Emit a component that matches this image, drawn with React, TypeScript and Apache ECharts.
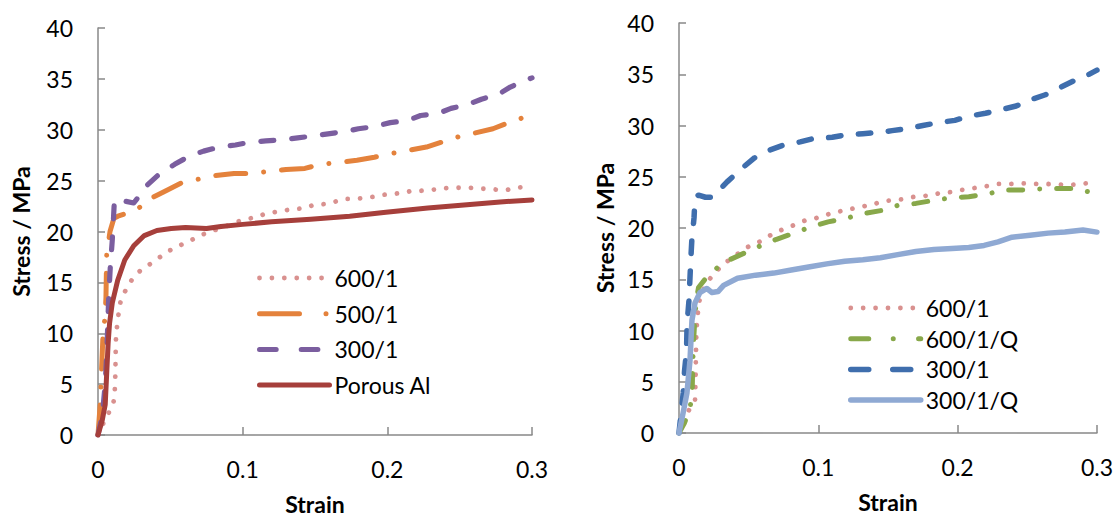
import React, { useEffect, useRef } from "react";
import * as echarts from "echarts";

// ---------- data (strain, stress/MPa) ----------
const xTicks = [0, 0.1, 0.2, 0.3];
const yTicks = [0, 5, 10, 15, 20, 25, 30, 35, 40];

const leftNames = ["600/1", "500/1", "300/1", "Porous Al"];
const rightNames = ["600/1", "600/1/Q", "300/1", "300/1/Q"];

const left600: [number, number][] = [
  [0, 0], [0.0035, 1.1], [0.0067, 2.0], [0.0105, 3.0], [0.0115, 4], [0.012, 6], [0.0122, 8], [0.0125, 10],
  [0.0135, 11], [0.0145, 12.3], [0.016, 13.4], [0.0198, 14.4], [0.024, 15.4], [0.0296, 16.2], [0.036, 16.8],
  [0.042, 17.4], [0.048, 18.0], [0.054, 18.5], [0.061, 18.9], [0.068, 19.4], [0.074, 19.8], [0.08, 20.1],
  [0.088, 20.5], [0.095, 20.9], [0.102, 21.2], [0.109, 21.4], [0.115, 21.7], [0.122, 21.9], [0.13, 22.1],
  [0.136, 22.2], [0.143, 22.3], [0.149, 22.6], [0.157, 22.7], [0.163, 22.9], [0.17, 23.2], [0.177, 23.2],
  [0.184, 23.3], [0.19, 23.4], [0.197, 23.6], [0.204, 23.7], [0.211, 23.8], [0.217, 24.0], [0.223, 24.0],
  [0.231, 24.1], [0.237, 24.2], [0.243, 24.3], [0.251, 24.3], [0.257, 24.3], [0.263, 24.2], [0.269, 24.2],
  [0.277, 24.1], [0.283, 24.1], [0.289, 24.3], [0.3, 24.45],
];
const left500: [number, number][] = [
  [0, 0], [0.0015, 3], [0.0025, 6.5], [0.0035, 10], [0.0048, 11.5], [0.0055, 13.5], [0.006, 17.7],
  [0.0083, 20], [0.011, 21.3], [0.0138, 21.5], [0.02, 21.8], [0.025, 22.0], [0.03, 22.5], [0.033, 23.0],
  [0.047, 24.0], [0.058, 24.8], [0.081, 25.5], [0.094, 25.7], [0.106, 25.7], [0.13, 26.1], [0.143, 26.2],
  [0.154, 26.6], [0.179, 27.0], [0.191, 27.3], [0.204, 27.7], [0.227, 28.3], [0.238, 28.8], [0.249, 29.3],
  [0.273, 30.1], [0.284, 30.7], [0.298, 31.4], [0.3, 31.7],
];
const left300: [number, number][] = [
  [0, 0], [0.003, 2], [0.005, 5], [0.006, 8], [0.0068, 11], [0.0074, 13.5], [0.0085, 16.5], [0.0098, 19],
  [0.0106, 21], [0.0112, 22.7], [0.0136, 23.3], [0.018, 23.0], [0.0247, 22.8], [0.028, 23.4], [0.032, 24.3],
  [0.042, 25.6], [0.053, 26.6], [0.063, 27.4], [0.073, 27.9], [0.084, 28.3], [0.095, 28.5], [0.106, 28.8],
  [0.116, 28.9], [0.127, 29.0], [0.138, 29.2], [0.149, 29.4], [0.159, 29.6], [0.17, 29.8], [0.18, 30.1],
  [0.191, 30.3], [0.202, 30.7], [0.214, 30.9], [0.223, 31.4], [0.235, 31.6], [0.244, 32.1], [0.256, 32.5],
  [0.265, 33.0], [0.277, 33.5], [0.285, 34.2], [0.296, 34.9], [0.3, 35.1],
];
const leftPorous: [number, number][] = [
  [0, 0], [0.003, 1.5], [0.005, 3], [0.006, 6], [0.007, 9], [0.008, 11], [0.0099, 13], [0.0136, 15.2],
  [0.0185, 17.2], [0.0247, 18.6], [0.032, 19.6], [0.0407, 20.1], [0.0506, 20.3], [0.0605, 20.4], [0.075, 20.3],
  [0.085, 20.5], [0.1, 20.7], [0.12, 20.95], [0.147, 21.2], [0.174, 21.5], [0.199, 21.9], [0.228, 22.3],
  [0.253, 22.6], [0.278, 22.9], [0.3, 23.1],
];

const right600: [number, number][] = [
  [0, 0], [0.007, 2.2], [0.0115, 3.2], [0.012, 6], [0.0122, 8], [0.0125, 10], [0.0133, 11.3], [0.014, 12.5],
  [0.0155, 13.4], [0.0197, 14.6], [0.0248, 15.5], [0.0307, 16.3], [0.037, 17.0], [0.0435, 17.6], [0.05, 18.2],
  [0.057, 18.6], [0.063, 19.1], [0.07, 19.6], [0.077, 20.0], [0.083, 20.3], [0.09, 20.7], [0.097, 20.9],
  [0.104, 21.2], [0.111, 21.5], [0.118, 21.7], [0.125, 21.9], [0.132, 22.1], [0.139, 22.3], [0.146, 22.6],
  [0.153, 22.7], [0.16, 22.8], [0.166, 23.0], [0.174, 23.1], [0.181, 23.2], [0.187, 23.4], [0.195, 23.5],
  [0.202, 23.7], [0.208, 23.8], [0.216, 24.0], [0.222, 24.1], [0.229, 24.3], [0.237, 24.3], [0.243, 24.35],
  [0.25, 24.35], [0.257, 24.3], [0.264, 24.3], [0.271, 24.25], [0.277, 24.2], [0.285, 24.25], [0.292, 24.35],
  [0.3, 24.4],
];
const right600Q: [number, number][] = [
  [0, 0], [0.004, 1], [0.008, 2.5], [0.0095, 4], [0.0098, 6.5], [0.0105, 9], [0.0115, 11.5], [0.0125, 13],
  [0.014, 14.2], [0.0217, 15.5], [0.033, 16.7], [0.046, 17.5], [0.0575, 18.2], [0.07, 18.9], [0.0826, 19.5],
  [0.0946, 20.1], [0.107, 20.6], [0.119, 20.9], [0.132, 21.4], [0.145, 21.7], [0.157, 22.2], [0.17, 22.4],
  [0.183, 22.7], [0.196, 22.95], [0.208, 23.05], [0.221, 23.3], [0.233, 23.7], [0.2455, 23.7], [0.258, 23.8],
  [0.271, 23.85], [0.283, 23.85], [0.295, 23.5], [0.3, 23.5],
];
const right300: [number, number][] = [
  [0, 0], [0.003, 3.9], [0.004, 6.1], [0.0054, 8], [0.0058, 10.7], [0.0072, 13], [0.0078, 14.9], [0.0085, 17],
  [0.0092, 18.8], [0.0108, 21], [0.0115, 23], [0.014, 23.2], [0.019, 23.0], [0.024, 23.0], [0.0345, 24.5],
  [0.045, 25.8], [0.0537, 26.8], [0.065, 27.6], [0.0754, 28.1], [0.087, 28.4], [0.097, 28.75], [0.11, 28.85],
  [0.12, 29.1], [0.132, 29.2], [0.142, 29.3], [0.153, 29.5], [0.164, 29.7], [0.175, 30.0], [0.187, 30.3],
  [0.198, 30.5], [0.208, 30.9], [0.22, 31.2], [0.23, 31.5], [0.242, 31.9], [0.252, 32.5], [0.263, 33.0],
  [0.272, 33.6], [0.284, 34.4], [0.293, 34.9], [0.3, 35.4],
];
const right300Q: [number, number][] = [
  [0, 0], [0.003, 2], [0.0057, 3.9], [0.0079, 7.1], [0.0093, 11], [0.0115, 12.7], [0.015, 13.7], [0.02, 14.1],
  [0.0237, 13.7], [0.028, 13.8], [0.032, 14.4], [0.042, 15.1], [0.055, 15.4], [0.068, 15.6], [0.0806, 15.9],
  [0.093, 16.2], [0.106, 16.5], [0.119, 16.75], [0.132, 16.9], [0.1445, 17.1], [0.157, 17.4], [0.17, 17.7],
  [0.183, 17.9], [0.196, 18.0], [0.208, 18.1], [0.219, 18.3], [0.229, 18.65], [0.239, 19.1], [0.252, 19.3],
  [0.265, 19.5], [0.277, 19.6], [0.29, 19.8], [0.3, 19.6],
];

// ---------- styles ----------
const FONT = "Lato, 'Open Sans', sans-serif";
const AXIS_COLOR = "#888888";
const C_PINK = "#D9918F";
const C_ORANGE = "#E4823C";
const C_PURPLE = "#7B5E9F";
const C_RED = "#A63F3B";
const C_GREEN = "#88A84A";
const C_BLUE = "#3F6EAD";
const C_LBLUE = "#8FA9D3";

// plot dash patterns
const DOT = [0.01, 12.4];
const DASH_DOT_LONG = [30, 18, 0.01, 18];
const DASH_DOT_SHORT = [14, 17, 0.01, 17];
const DASH_L = [13, 18];
const DASH_R = [12.5, 17.5];
// legend icon dash patterns
const LG_DASH_DOT_LONG = [40, 26.5, 0.01, 30];
const LG_DASH_L = [16.7, 25];
const LG_DASH_DOT_SHORT = [18, 24.5, 0.01, 25.3];
const LG_DASH_R = [18, 24];

function lineSeries(name: string, data: [number, number][], color: string, width: number, dash: any) {
  return {
    type: "line",
    name,
    data,
    symbol: "none",
    showSymbol: false,
    smooth: false,
    color,
    lineStyle: { color, width, type: dash, cap: "round", join: "round" },
  };
}

function xAxisCfg() {
  return {
    type: "value",
    min: xTicks[0],
    max: xTicks[xTicks.length - 1],
    interval: xTicks[1] - xTicks[0],
    name: "Strain",
    nameLocation: "middle",
    nameGap: 57,
    nameTextStyle: { fontFamily: FONT, fontSize: 23, fontWeight: "bold", color: "#000" },
    axisLine: { show: true, onZero: false, lineStyle: { color: AXIS_COLOR, width: 1.5 } },
    axisTick: { show: true, inside: true, length: 8, lineStyle: { color: AXIS_COLOR, width: 1.5 } },
    axisLabel: {
      fontFamily: FONT, fontSize: 23, color: "#000", margin: 22,
      showMinLabel: true, showMaxLabel: true,
      formatter: (v: number) => String(Math.round(v * 10) / 10),
    },
    splitLine: { show: false },
  };
}

function yAxisCfg(gap: number) {
  return {
    type: "value",
    min: yTicks[0],
    max: yTicks[yTicks.length - 1],
    interval: yTicks[1] - yTicks[0],
    name: "Stress / MPa",
    nameLocation: "middle",
    nameRotate: 90,
    nameGap: gap,
    nameTextStyle: { fontFamily: FONT, fontSize: 23, fontWeight: "bold", color: "#000" },
    axisLine: { show: true, onZero: false, lineStyle: { color: AXIS_COLOR, width: 1.5 } },
    axisTick: { show: true, inside: true, length: 7, lineStyle: { color: AXIS_COLOR, width: 1.5 } },
    axisLabel: { fontFamily: FONT, fontSize: 23, color: "#000", margin: 25 },
    splitLine: { show: false },
  };
}

function legendCfg(items: any[], left: number, top: number, gap: number) {
  return {
    data: items,
    orient: "vertical",
    left,
    top,
    padding: 0,
    itemWidth: 70,
    itemHeight: 14,
    itemGap: gap,
    selectedMode: false,
    itemStyle: { opacity: 0 },
    lineStyle: { width: 5, cap: "round" },
    textStyle: { fontFamily: FONT, fontSize: 23, color: "#000", lineHeight: 30 },
  };
}

function buildLeft() {
  return {
    animation: false,
    backgroundColor: "#ffffff",
    grid: { left: 98, top: 28, width: 434, height: 411 },
    xAxis: xAxisCfg(),
    yAxis: yAxisCfg(66),
    legend: legendCfg(
      [
        { name: leftNames[0], lineStyle: { type: DOT, width: 4.8 } },
        { name: leftNames[1], lineStyle: { type: LG_DASH_DOT_LONG } },
        { name: leftNames[2], lineStyle: { type: LG_DASH_L } },
        { name: leftNames[3], lineStyle: { type: "solid" } },
      ],
      257, 263, 5.7
    ),
    series: [
      lineSeries(leftNames[0], left600, C_PINK, 4.8, DOT),
      lineSeries(leftNames[1], left500, C_ORANGE, 5, DASH_DOT_LONG),
      lineSeries(leftNames[2], left300, C_PURPLE, 5.2, DASH_L),
      lineSeries(leftNames[3], leftPorous, C_RED, 5, "solid"),
    ],
  };
}

function buildRight() {
  return {
    animation: false,
    backgroundColor: "#ffffff",
    grid: { left: 121, top: 23, width: 418, height: 410 },
    xAxis: xAxisCfg(),
    yAxis: yAxisCfg(63),
    legend: legendCfg(
      [
        { name: rightNames[0], lineStyle: { type: DOT, width: 4.8 } },
        { name: rightNames[1], lineStyle: { type: LG_DASH_DOT_SHORT } },
        { name: rightNames[2], lineStyle: { type: LG_DASH_R, width: 5.5 } },
        { name: rightNames[3], lineStyle: { type: "solid", width: 5.5 } },
      ],
      290, 293, 0.7
    ),
    series: [
      lineSeries(rightNames[0], right600, C_PINK, 4.8, DOT),
      lineSeries(rightNames[1], right600Q, C_GREEN, 5, DASH_DOT_SHORT),
      lineSeries(rightNames[2], right300, C_BLUE, 5.5, DASH_R),
      lineSeries(rightNames[3], right300Q, C_LBLUE, 5.5, "solid"),
    ],
  };
}

export default function App() {
  const leftRef = useRef<HTMLDivElement>(null);
  const rightRef = useRef<HTMLDivElement>(null);
  useEffect(() => {
    if (!leftRef.current || !rightRef.current) return;
    const c1 = echarts.init(leftRef.current, undefined, { renderer: "svg" });
    const c2 = echarts.init(rightRef.current, undefined, { renderer: "svg" });
    c1.setOption(buildLeft() as any);
    c2.setOption(buildRight() as any);
    return () => {
      c1.dispose();
      c2.dispose();
    };
  }, []);
  return (
    <div style={{ position: "fixed", left: 0, top: 0, width: 1116, height: 520, background: "#fff" }}>
      <div ref={leftRef} style={{ position: "absolute", left: 0, top: 0, width: 558, height: 520 }} />
      <div ref={rightRef} style={{ position: "absolute", left: 558, top: 0, width: 558, height: 520 }} />
    </div>
  );
}
